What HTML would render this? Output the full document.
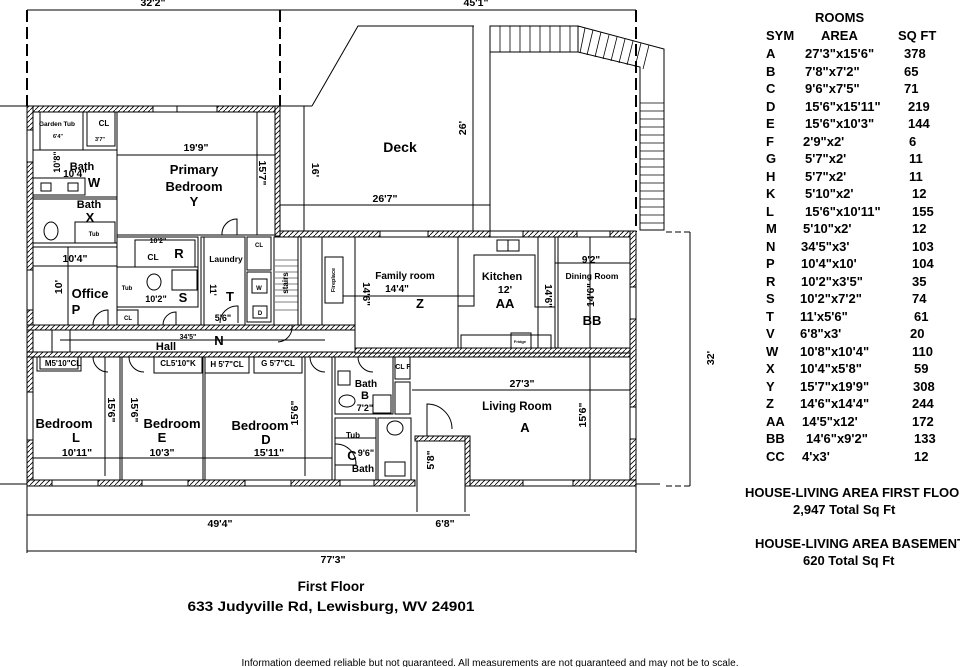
<!DOCTYPE html>
<html><head><meta charset="utf-8"><style>
html,body{margin:0;padding:0;background:#fff;overflow:hidden;}
svg{display:block;}
text{font-family:"Liberation Sans",Arial,sans-serif;font-weight:bold;fill:#000;}
</style></head><body>
<svg width="960" height="667" viewBox="0 0 960 667" xmlns="http://www.w3.org/2000/svg">
<defs>
<pattern id="h" width="5" height="5" patternUnits="userSpaceOnUse">
<rect width="5" height="5" fill="#fff"/><path d="M0 5 L5 0" stroke="#000" stroke-width="0.8"/>
</pattern>
</defs>
<g fill="none" stroke="#000" stroke-width="1">
<line x1="27" y1="10" x2="636" y2="10"/>
<line x1="27" y1="10" x2="27" y2="106" stroke-width="2" stroke-dasharray="12,5"/>
<line x1="280" y1="10" x2="280" y2="106" stroke-width="2" stroke-dasharray="12,5"/>
<line x1="636" y1="10" x2="636" y2="232" stroke-width="2" stroke-dasharray="12,5"/>
<line x1="0" y1="106" x2="27" y2="106"/>
<line x1="280" y1="106" x2="312" y2="106"/>
<polyline points="312,106 358,26 474,26"/>
<line x1="304" y1="106" x2="304" y2="232"/>
<line x1="280" y1="205" x2="490" y2="205"/>
<line x1="473" y1="26" x2="473" y2="232"/>
<line x1="490" y1="26" x2="490" y2="232"/>
<rect x="490" y="26" width="88" height="26"/>
<g stroke-width="0.8">
<line x1="500" y1="26" x2="500" y2="52"/><line x1="510" y1="26" x2="510" y2="52"/><line x1="520" y1="26" x2="520" y2="52"/><line x1="530" y1="26" x2="530" y2="52"/><line x1="540" y1="26" x2="540" y2="52"/><line x1="550" y1="26" x2="550" y2="52"/><line x1="560" y1="26" x2="560" y2="52"/><line x1="570" y1="26" x2="570" y2="52"/>
</g>
<polygon points="578,26 664,49 664,230 640,230 640,67 578,52"/>
<g stroke-width="0.8">
<line x1="585" y1="28" x2="580" y2="53"/><line x1="593" y1="30" x2="587" y2="55"/><line x1="601" y1="32" x2="595" y2="57"/><line x1="609" y1="35" x2="603" y2="59"/><line x1="617" y1="37" x2="611" y2="61"/><line x1="625" y1="39" x2="619" y2="63"/><line x1="633" y1="41" x2="627" y2="65"/><line x1="641" y1="43" x2="635" y2="67"/><line x1="649" y1="45" x2="643" y2="69"/>
<line x1="640" y1="103" x2="664" y2="103"/><line x1="640" y1="111" x2="664" y2="111"/><line x1="640" y1="119" x2="664" y2="119"/><line x1="640" y1="127" x2="664" y2="127"/><line x1="640" y1="135" x2="664" y2="135"/><line x1="640" y1="143" x2="664" y2="143"/><line x1="640" y1="151" x2="664" y2="151"/><line x1="640" y1="159" x2="664" y2="159"/><line x1="640" y1="167" x2="664" y2="167"/><line x1="640" y1="175" x2="664" y2="175"/><line x1="640" y1="183" x2="664" y2="183"/><line x1="640" y1="191" x2="664" y2="191"/><line x1="640" y1="199" x2="664" y2="199"/><line x1="640" y1="207" x2="664" y2="207"/><line x1="640" y1="215" x2="664" y2="215"/><line x1="640" y1="223" x2="664" y2="223"/>
</g>
</g>
<g fill="url(#h)" stroke="#000" stroke-width="1">
<rect x="27" y="106" width="253" height="6"/>
<rect x="27" y="106" width="6" height="380"/>
<rect x="275" y="106" width="5" height="130"/>
<rect x="280" y="231" width="356" height="6"/>
<rect x="630" y="231" width="6" height="255"/>
<rect x="27" y="480" width="388" height="6"/>
<rect x="470" y="480" width="166" height="6"/>
<rect x="415" y="436" width="55" height="5"/>
<rect x="465" y="436" width="5" height="50"/>
<rect x="27" y="325" width="328" height="5"/>
<rect x="27" y="352" width="603" height="5"/>
<rect x="355" y="348" width="275" height="5"/>
</g>
<g fill="#fff" stroke="#000" stroke-width="1">
<rect x="153" y="106" width="24" height="6"/><rect x="177" y="106" width="40" height="6"/>
<rect x="380" y="231" width="48" height="6"/><rect x="490" y="231" width="33" height="6"/><rect x="577" y="231" width="33" height="6"/>
<rect x="52" y="480" width="46" height="6"/><rect x="142" y="480" width="46" height="6"/><rect x="245" y="480" width="46" height="6"/><rect x="340" y="480" width="34" height="6"/>
<rect x="523" y="480" width="50" height="6"/>
<rect x="630" y="287" width="6" height="32"/><rect x="630" y="407" width="6" height="32"/>
<rect x="27" y="130" width="6" height="32"/><rect x="27" y="270" width="6" height="40"/><rect x="27" y="392" width="6" height="48"/>
</g>
<g fill="none" stroke="#000" stroke-width="1">
<rect x="33" y="112" width="50" height="38"/><line x1="40" y1="112" x2="40" y2="150"/>
<rect x="87" y="112" width="28" height="34"/>
<line x1="33" y1="150" x2="117" y2="150"/>
<rect x="33" y="178" width="52" height="17"/>
<rect x="41" y="183" width="10" height="8"/><rect x="68" y="183" width="10" height="8"/>
<line x1="33" y1="197" x2="117" y2="197"/>
<rect x="33" y="199" width="84" height="44"/>
<rect x="75" y="222" width="40" height="21"/>
<ellipse cx="51" cy="231" rx="7" ry="9"/>
<rect x="33" y="247" width="84" height="78"/><line x1="33" y1="266" x2="117" y2="266"/>
<line x1="68" y1="247" x2="68" y2="325"/>
<path d="M93 325 A15 15 0 0 1 108 310 L108 325"/>
<line x1="117" y1="112" x2="117" y2="325"/>
<rect x="117" y="112" width="158" height="123"/>
<line x1="117" y1="155" x2="275" y2="155"/>
<line x1="257" y1="112" x2="257" y2="235"/>
<path d="M222 235 A15 15 0 0 1 237 219 L237 235"/>
<line x1="117" y1="237" x2="198" y2="237"/>
<rect x="117" y="237" width="81" height="30"/><rect x="135" y="240" width="60" height="27"/>
<rect x="117" y="267" width="81" height="40"/><rect x="172" y="270" width="25" height="20"/>
<ellipse cx="154" cy="282" rx="7" ry="8"/>
<rect x="117" y="310" width="21" height="15"/>
<path d="M163 325 A13 13 0 0 1 176 312 L176 325"/>
<rect x="201" y="237" width="44" height="88"/><line x1="204" y1="237" x2="204" y2="325"/>
<path d="M220 323 A17 17 0 0 1 238 306 L238 323"/>
<rect x="247" y="237" width="24" height="33"/>
<rect x="247" y="272" width="24" height="50"/><rect x="252" y="279" width="15" height="14"/><rect x="253" y="306" width="14" height="12"/>
<rect x="274" y="237" width="24" height="88"/>
<g stroke-width="0.6"><line x1="275" y1="260" x2="298" y2="260"/><line x1="275" y1="266" x2="298" y2="266"/><line x1="275" y1="272" x2="298" y2="272"/><line x1="275" y1="278" x2="298" y2="278"/><line x1="275" y1="284" x2="298" y2="284"/><line x1="275" y1="290" x2="298" y2="290"/><line x1="275" y1="296" x2="298" y2="296"/><line x1="275" y1="302" x2="298" y2="302"/><line x1="275" y1="310" x2="298" y2="310"/></g>
<rect x="301" y="237" width="21" height="88"/>
<rect x="325" y="257" width="18" height="46"/>
<line x1="343" y1="296" x2="460" y2="296"/>
<line x1="355" y1="237" x2="355" y2="348"/>
<line x1="60" y1="340" x2="325" y2="340"/>
<rect x="52" y="330" width="18" height="22"/>
<path d="M292 325 A15 15 0 0 1 278 342"/>
<rect x="458" y="237" width="100" height="111"/>
<rect x="458" y="296" width="16" height="10"/>
<polyline points="474,304 474,255 535,255 535,307 555,307"/>
<rect x="497" y="240" width="22" height="11"/><line x1="508" y1="240" x2="508" y2="251"/>
<rect x="461" y="335" width="90" height="13"/><rect x="511" y="333" width="20" height="15"/>
<line x1="538" y1="237" x2="538" y2="348"/>
<rect x="555" y="237" width="75" height="111"/><line x1="555" y1="263" x2="630" y2="263"/>
<line x1="590" y1="237" x2="590" y2="348"/>
<rect x="37" y="357" width="44" height="14"/>
<rect x="40" y="357" width="38" height="12"/>
<rect x="154" y="357" width="48" height="16"/>
<rect x="205" y="357" width="44" height="16"/>
<rect x="254" y="357" width="48" height="16"/>
<line x1="120" y1="357" x2="120" y2="480"/><line x1="122" y1="357" x2="122" y2="480"/>
<line x1="203" y1="357" x2="203" y2="480"/><line x1="205" y1="357" x2="205" y2="480"/>
<line x1="332" y1="357" x2="332" y2="480"/>
<line x1="33" y1="458" x2="332" y2="458"/>
<line x1="105" y1="357" x2="105" y2="476"/><line x1="305" y1="357" x2="305" y2="476"/>
<path d="M93 357 A15 15 0 0 0 108 372"/><path d="M129 357 A15 15 0 0 0 144 372"/><path d="M310 357 A15 15 0 0 0 325 372"/>
<rect x="335" y="357" width="58" height="57"/><rect x="338" y="371" width="12" height="14"/>
<ellipse cx="347" cy="401" rx="8" ry="6"/><rect x="373" y="395" width="18" height="18"/>
<path d="M358 357 A15 15 0 0 0 373 372"/>
<rect x="395" y="357" width="15" height="22"/><rect x="395" y="382" width="15" height="32"/>
<rect x="335" y="418" width="41" height="62"/><line x1="335" y1="438" x2="376" y2="438"/>
<rect x="378" y="418" width="33" height="62"/><rect x="385" y="462" width="20" height="14"/>
<ellipse cx="395" cy="428" rx="8" ry="7"/>
<path d="M335 444 A20 20 0 0 1 356 465 L335 465"/>
<line x1="412" y1="390" x2="630" y2="390"/>
<line x1="590" y1="353" x2="590" y2="480"/>
<path d="M427 436 L427 404 A25 25 0 0 1 452 429"/>
<line x1="417" y1="441" x2="417" y2="512"/><line x1="465" y1="486" x2="465" y2="512"/>
<line x1="0" y1="484" x2="27" y2="484"/><line x1="636" y1="484" x2="660" y2="484"/>
<line x1="27" y1="486" x2="27" y2="553"/>
<line x1="27" y1="515" x2="470" y2="515"/>
<line x1="27" y1="551" x2="636" y2="551"/>
<line x1="636" y1="486" x2="636" y2="553"/>
<line x1="690" y1="232" x2="690" y2="486"/>
<line x1="666" y1="232" x2="690" y2="232" stroke-dasharray="6,3"/>
<line x1="666" y1="486" x2="690" y2="486" stroke-dasharray="6,3"/>
</g>
<g font-size="10.5">
<text x="153" y="6" text-anchor="middle">32'2"</text>
<text x="476" y="6" text-anchor="middle">45'1"</text>
<text x="385" y="202" text-anchor="middle">26'7"</text>
<text x="312" y="170" transform="rotate(90 312 170)" text-anchor="middle">16'</text>
<text x="466" y="128" transform="rotate(-90 466 128)" text-anchor="middle">26'</text>
<text x="220" y="527" text-anchor="middle">49'4"</text>
<text x="445" y="527" text-anchor="middle">6'8"</text>
<text x="333" y="563" text-anchor="middle">77'3"</text>
<text x="714" y="358" transform="rotate(-90 714 358)" text-anchor="middle">32'</text>
<text x="196" y="151" text-anchor="middle">19'9"</text>
<text x="259" y="173" transform="rotate(90 259 173)" text-anchor="middle">15'7"</text>
<text x="60" y="162" transform="rotate(-90 60 162)" text-anchor="middle" font-size="9">10'8"</text>
<text x="75" y="177" text-anchor="middle" font-size="10">10'4"</text>
<text x="75" y="262" text-anchor="middle">10'4"</text>
<text x="62" y="287" transform="rotate(-90 62 287)" text-anchor="middle">10'</text>
<text x="210" y="290" transform="rotate(90 210 290)" text-anchor="middle" font-size="9">11'</text>
<text x="223" y="321" text-anchor="middle" font-size="9">5'6"</text>
<text x="156" y="302" text-anchor="middle" font-size="9">10'2"</text>
<text x="158" y="243" text-anchor="middle" font-size="7">10'2"</text>
<text x="188" y="339" text-anchor="middle" font-size="7">34'5"</text>
<text x="397" y="292" text-anchor="middle" font-size="10">14'4"</text>
<text x="363" y="294" transform="rotate(90 363 294)" text-anchor="middle" font-size="10">14'6"</text>
<text x="545" y="296" transform="rotate(90 545 296)" text-anchor="middle" font-size="10">14'6"</text>
<text x="505" y="293" text-anchor="middle">12'</text>
<text x="591" y="263" text-anchor="middle" font-size="10">9'2"</text>
<text x="594" y="295" transform="rotate(-90 594 295)" text-anchor="middle" font-size="10">14'6"</text>
<text x="522" y="387" text-anchor="middle">27'3"</text>
<text x="586" y="415" transform="rotate(-90 586 415)" text-anchor="middle">15'6"</text>
<text x="108" y="410" transform="rotate(90 108 410)" text-anchor="middle">15'6"</text>
<text x="131" y="410" transform="rotate(90 131 410)" text-anchor="middle">15'6"</text>
<text x="298" y="413" transform="rotate(-90 298 413)" text-anchor="middle">15'6"</text>
<text x="77" y="456" text-anchor="middle">10'11"</text>
<text x="162" y="456" text-anchor="middle">10'3"</text>
<text x="269" y="456" text-anchor="middle">15'11"</text>
<text x="365" y="411" text-anchor="middle" font-size="9">7'2"</text>
<text x="366" y="456" text-anchor="middle" font-size="9">9'6"</text>
<text x="434" y="460" transform="rotate(-90 434 460)" text-anchor="middle">5'8"</text>
</g>
<g font-size="13" text-anchor="middle">
<text x="400" y="152" font-size="14">Deck</text>
<text x="194" y="174">Primary</text>
<text x="194" y="191">Bedroom</text>
<text x="194" y="206">Y</text>
<text x="89" y="208" font-size="11">Bath</text><text x="90" y="222">X</text>
<text x="82" y="170" font-size="11">Bath</text><text x="94" y="187">W</text>
<text x="90" y="298">Office</text><text x="76" y="314">P</text>
<text x="179" y="258">R</text>
<text x="183" y="302">S</text>
<text x="230" y="301">T</text>
<text x="420" y="308">Z</text>
<text x="505" y="308">AA</text>
<text x="592" y="325">BB</text>
<text x="219" y="345">N</text>
<text x="166" y="350" font-size="11">Hall</text>
<text x="64" y="428">Bedroom</text><text x="76" y="442">L</text>
<text x="172" y="428">Bedroom</text><text x="162" y="442">E</text>
<text x="260" y="430">Bedroom</text><text x="266" y="444">D</text>
<text x="366" y="387" font-size="10">Bath</text><text x="365" y="399" font-size="11">B</text>
<text x="352" y="460">C</text><text x="363" y="472" font-size="10">Bath</text>
<text x="517" y="410" font-size="11.5">Living Room</text><text x="525" y="432">A</text>
<text x="405" y="279" font-size="10">Family room</text>
<text x="502" y="280" font-size="11">Kitchen</text>
<text x="592" y="279" font-size="8.5">Dining Room</text>
<text x="226" y="262" font-size="8.5">Laundry</text>
<text x="153" y="260" font-size="8.5">CL</text>
<text x="104" y="126" font-size="8">CL</text>
<text x="57" y="126" font-size="6.5">Garden Tub</text>
<text x="58" y="138" font-size="5.5">6'4"</text>
<text x="100" y="141" font-size="5.5">3'7"</text>
<text x="94" y="236" font-size="6">Tub</text>
<text x="127" y="290" font-size="6">Tub</text>
<text x="128" y="320" font-size="6">CL</text>
<text x="259" y="247" font-size="6">CL</text>
<text x="259" y="290" font-size="6">W</text><text x="260" y="315" font-size="6">D</text>
<text x="288" y="283" font-size="8" transform="rotate(-90 288 283)">stairs</text>
<text x="335" y="280" font-size="5.5" transform="rotate(-90 335 280)">Fireplace</text>
<text x="520" y="343" font-size="4">Fridge</text>
<text x="353" y="438" font-size="8">Tub</text>
<text x="63" y="366" font-size="8">M5'10"CL</text>
<text x="178" y="366" font-size="8">CL5'10"K</text>
<text x="227" y="367" font-size="8">H 5'7"CL</text>
<text x="278" y="366" font-size="8">G 5'7"CL</text>
<text x="403" y="369" font-size="7">CL F</text>
</g>
<g text-anchor="middle">
<text x="331" y="591" font-size="13.5">First Floor</text>
<text x="331" y="611" font-size="13.5" textLength="287" lengthAdjust="spacingAndGlyphs">633 Judyville Rd, Lewisburg, WV 24901</text>
<text x="490" y="666" font-size="10" style="font-weight:normal" textLength="497" lengthAdjust="spacingAndGlyphs">Information deemed reliable but not guaranteed. All measurements are not guaranteed and may not be to scale.</text>
</g>
<g font-size="13">
<text x="815" y="22">ROOMS</text>
<text x="766" y="40">SYM</text><text x="821" y="40">AREA</text><text x="898" y="40">SQ FT</text>
<text x="766" y="58">A</text><text x="805" y="58">27'3"x15'6"</text><text x="904" y="58">378</text>
<text x="766" y="76">B</text><text x="805" y="76">7'8"x7'2"</text><text x="904" y="76">65</text>
<text x="766" y="93">C</text><text x="805" y="93">9'6"x7'5"</text><text x="904" y="93">71</text>
<text x="766" y="111">D</text><text x="805" y="111">15'6"x15'11"</text><text x="908" y="111">219</text>
<text x="766" y="128">E</text><text x="805" y="128">15'6"x10'3"</text><text x="908" y="128">144</text>
<text x="766" y="146">F</text><text x="803" y="146">2'9"x2'</text><text x="909" y="146">6</text>
<text x="766" y="163">G</text><text x="805" y="163">5'7"x2'</text><text x="909" y="163">11</text>
<text x="766" y="181">H</text><text x="805" y="181">5'7"x2'</text><text x="909" y="181">11</text>
<text x="766" y="198">K</text><text x="805" y="198">5'10"x2'</text><text x="912" y="198">12</text>
<text x="766" y="216">L</text><text x="805" y="216">15'6"x10'11"</text><text x="912" y="216">155</text>
<text x="766" y="233">M</text><text x="803" y="233">5'10"x2'</text><text x="912" y="233">12</text>
<text x="766" y="251">N</text><text x="801" y="251">34'5"x3'</text><text x="912" y="251">103</text>
<text x="766" y="268">P</text><text x="801" y="268">10'4"x10'</text><text x="912" y="268">104</text>
<text x="766" y="286">R</text><text x="801" y="286">10'2"x3'5"</text><text x="912" y="286">35</text>
<text x="766" y="303">S</text><text x="800" y="303">10'2"x7'2"</text><text x="912" y="303">74</text>
<text x="766" y="321">T</text><text x="800" y="321">11'x5'6"</text><text x="914" y="321">61</text>
<text x="766" y="338">V</text><text x="800" y="338">6'8"x3'</text><text x="910" y="338">20</text>
<text x="766" y="356">W</text><text x="800" y="356">10'8"x10'4"</text><text x="912" y="356">110</text>
<text x="766" y="373">X</text><text x="800" y="373">10'4"x5'8"</text><text x="914" y="373">59</text>
<text x="766" y="391">Y</text><text x="800" y="391">15'7"x19'9"</text><text x="913" y="391">308</text>
<text x="766" y="408">Z</text><text x="800" y="408">14'6"x14'4"</text><text x="912" y="408">244</text>
<text x="766" y="426">AA</text><text x="802" y="426">14'5"x12'</text><text x="912" y="426">172</text>
<text x="766" y="443">BB</text><text x="806" y="443">14'6"x9'2"</text><text x="914" y="443">133</text>
<text x="766" y="461">CC</text><text x="802" y="461">4'x3'</text><text x="914" y="461">12</text>
<text x="745" y="497">HOUSE-LIVING AREA FIRST FLOOR</text>
<text x="793" y="514">2,947 Total Sq Ft</text>
<text x="755" y="548">HOUSE-LIVING AREA BASEMENT</text>
<text x="803" y="565">620 Total Sq Ft</text>
</g>
</svg>
</body></html>
